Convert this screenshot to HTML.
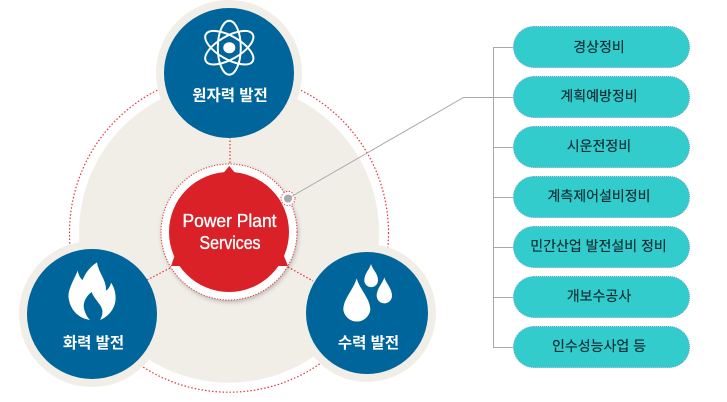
<!DOCTYPE html>
<html lang="ko">
<head>
<meta charset="utf-8">
<style>
html,body{margin:0;padding:0;background:#fff;width:727px;height:402px;overflow:hidden}
svg{display:block}
.h{font-family:"Liberation Sans","Noto Sans CJK KR",sans-serif;font-weight:700;font-size:15.500px;fill:#fff;text-anchor:middle}
.p{font-family:"Liberation Sans","Noto Sans CJK KR",sans-serif;font-size:14px;fill:#0c2a30;stroke:#0c2a30;stroke-width:.15;text-anchor:middle}
.e{font-family:"Liberation Sans",sans-serif;font-weight:400;fill:#fff;stroke:#fff;stroke-width:.35;text-anchor:middle}
</style>
</head>
<body>
<svg width="727" height="402" viewBox="0 0 727 402" xmlns="http://www.w3.org/2000/svg">
<defs>
<filter id="s" x="-20%" y="-20%" width="140%" height="140%"><feDropShadow dx="1" dy="2" stdDeviation="2.5" flood-color="#000" flood-opacity=".25"/></filter>
</defs>
<!-- outer dotted ring and beige disc -->
<circle cx="229" cy="232.7" r="159.5" fill="none" stroke="#e8303a" stroke-width="1.2" stroke-dasharray="1.5 2"/>
<circle cx="229" cy="232.7" r="150" fill="#f1eee7"/>
<!-- halos -->
<circle cx="229" cy="73" r="73" fill="#f1eee7"/>
<circle cx="92" cy="314" r="73" fill="#f1eee7"/>
<circle cx="367" cy="313" r="69" fill="#f1eee7"/>
<!-- dotted spokes -->
<g fill="none" stroke="#e8303a" stroke-width="1.2" stroke-dasharray="1.5 2">
<path d="M230 137V165"/>
<path d="M147 280L172 267"/>
<path d="M288 267L313 281"/>
</g>
<!-- blue circles -->
<circle cx="229" cy="73" r="65" fill="#00659b"/>
<circle cx="92" cy="314" r="65" fill="#00659b"/>
<circle cx="367" cy="313" r="61" fill="#00659b"/>
<!-- atom -->
<g fill="none" stroke="#fff" stroke-width="2">
<ellipse cx="229.3" cy="47.7" rx="11.5" ry="27"/>
<ellipse cx="229.3" cy="47.7" rx="11.5" ry="27" transform="rotate(60 229.3 47.7)"/>
<ellipse cx="229.3" cy="47.7" rx="11.5" ry="27" transform="rotate(-60 229.3 47.7)"/>
</g>
<ellipse cx="229.3" cy="47.7" rx="6" ry="5.5" fill="#fff"/>
<!-- flame -->
<path transform="translate(0 230) scale(.33333)" fill="#fff" d="M291 97C296 130 320 150 318 182C328 175 332 165 333 158C345 175 350 200 345 220C338 245 320 262 300 270C312 250 308 235 298 222C285 205 278 195 275 186C262 195 248 215 252 235C255 250 262 262 270 270C240 265 212 245 206 205C202 180 222 150 233 122C236 135 240 145 248 150C255 130 270 110 291 97Z"/>
<!-- drops -->
<g transform="translate(220 230) scale(.33333)" fill="#fff">
<path d="M410 145C400 180 370 205 370 240A41 41 0 0 0 451 240C451 205 420 180 410 145Z"/>
<path d="M453 102C448 120 433 130 433 151A20.5 20.5 0 0 0 474 151C474 130 458 120 453 102Z"/>
<path d="M493 142C488 160 470 175 470 197A23 23 0 0 0 516 197C516 175 498 160 493 142Z"/>
</g>
<!-- labels -->
<text class="h" x="230" y="100.500">원자력 발전</text>
<text class="h" x="93.500" y="348">화력 발전</text>
<text class="h" x="368.500" y="348">수력 발전</text>
<!-- centre -->
<circle cx="229" cy="232" r="68" fill="#fff" filter="url(#s)"/>
<circle cx="229" cy="232" r="68" fill="none" stroke="#e8303a" stroke-width="1" stroke-dasharray="1.2 1.6"/>
<circle cx="229" cy="232" r="60" fill="#da2127"/>
<path d="M229.300 166L236 174H222.500Z" fill="#da2127"/>
<path d="M171 266L174.500 256L183 262V266Z" fill="#da2127"/>
<path d="M288 266L284 256L275 262V266Z" fill="#da2127"/>
<text class="e" x="229.500" y="227" font-size="18" textLength="94" lengthAdjust="spacingAndGlyphs">Power Plant</text>
<text class="e" x="230" y="249" font-size="18" textLength="61" lengthAdjust="spacingAndGlyphs">Services</text>
<!-- pointer -->
<circle cx="288" cy="198.500" r="7" fill="#fff" stroke="#e8303a" stroke-width="1" stroke-dasharray="1.2 1.6"/>
<circle cx="288" cy="198.500" r="4" fill="#a8a8a8"/>
<g fill="none" stroke="#a8a8a8" stroke-width="1">
<path d="M288 198.500L463.500 97.500H513"/>
<path d="M513 47.500H493.500V347.500H513"/>
<path d="M493.500 147.500H513M493.500 197.500H513M493.500 247.500H513M493.500 297.500H513"/>
</g>
<!-- pills -->
<g fill="#33cccc" stroke="#5f9fd0" stroke-width="1" stroke-dasharray="1 1">
<rect x="513.500" y="26.500" width="176" height="41" rx="20.500"/>
<rect x="513.500" y="76.500" width="176" height="41" rx="20.500"/>
<rect x="513.500" y="126.500" width="176" height="41" rx="20.500"/>
<rect x="513.500" y="176.500" width="176" height="41" rx="20.500"/>
<rect x="513.500" y="226.500" width="176" height="41" rx="20.500"/>
<rect x="513.500" y="276.500" width="176" height="41" rx="20.500"/>
<rect x="513.500" y="326.500" width="176" height="41" rx="20.500"/>
</g>
<text class="p" x="599" y="52">경상정비</text>
<text class="p" x="599" y="101">계획예방정비</text>
<text class="p" x="599" y="151">시운전정비</text>
<text class="p" x="599" y="201">계측제어설비정비</text>
<text class="p" x="598.500" y="251">민간산업 발전설비 정비</text>
<text class="p" x="599" y="301">개보수공사</text>
<text class="p" x="599" y="351">인수성능사업 등</text>
</svg>
</body>
</html>
